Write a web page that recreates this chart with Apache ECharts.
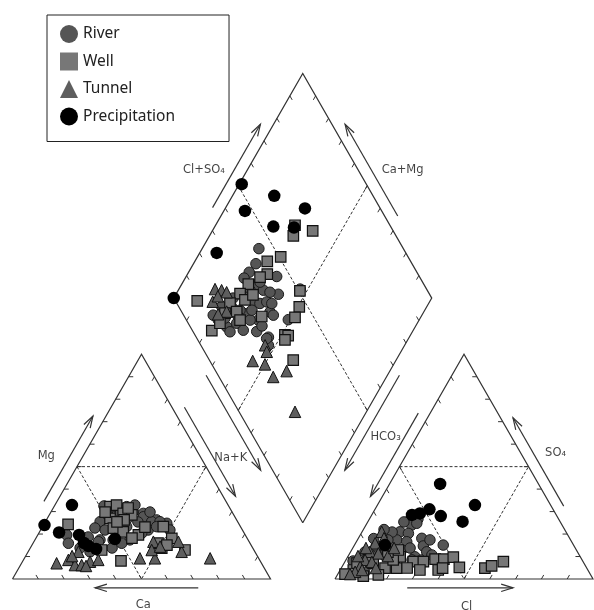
<!DOCTYPE html>
<html><head><meta charset="utf-8">
<script src="https://cdn.jsdelivr.net/npm/echarts@6/dist/echarts.min.js"></script>
<style>html,body{margin:0;padding:0;background:#fff}#c{width:594px;height:610px}</style>
</head><body><div id="c"></div>
<script>
// ---------------- DATA (percent values) ----------------
const categories = ['River', 'Well', 'Tunnel', 'Precipitation'];

// Cation triangle: [Mg %, Na+K %]   (Ca % = 100 - Mg - Na+K)
const riverCation = [[25.5,21.2],[18.7,20],[19.6,11.2],[17.4,25.2],[29.2,36.1],[26.3,42.7],[24.8,47.4],[22.7,20.6],[15.9,13.7],[16.6,25],[12.1,24],[32.2,28.2],[30,31.8],[27.7,36.9],[25.5,41.2],[25.5,44.4],[21.8,41.7],[20.3,39.9],[17.4,36.8],[15.9,34.4],[23.3,32.6],[23.3,44.2],[28.5,22.8],[21.8,28.8],[21.8,25],[25.4,35.9],[29.8,26.8],[17.4,30.3],[13.8,19.3],[29.8,38.4],[32.9,31],[21.8,50.1],[13.8,31.7],[27.1,31.2],[32.5,19.2]];
const wellCation = [[24.3,9.4],[12.9,28.1],[8.1,38],[32.2,21.7],[32.9,23.9],[27,24.3],[29.2,28.3],[22.6,27.8],[21,32.4],[28.5,32],[19.6,39],[23.3,46.8],[18.1,52.7],[13.7,51],[12.9,60.4],[26.3,30.1],[29.8,21],[25.4,27.8],[31.6,29],[23.1,39.8],[16,48.4],[15.1,52.3],[18.2,37.2]];
const tunnelCation = [[7,13.6],[8.5,17.4],[12.1,19.5],[6.2,21.1],[6.2,23.7],[7.7,26.2],[8.5,29],[9.2,44.8],[9.2,50.6],[16.6,46.3],[12.9,47.5],[12.1,59.5],[9.2,72],[16.6,56],[14.4,50],[5.8,25.6],[10.2,18]];
const precipCation = [[32.9,6.6],[24,0.4],[20.7,7.7],[19.6,16],[14.7,22.1],[17.8,30.8],[13.4,25.7],[16,19.7]];

// Anion triangle: [SO4 %, Cl %]   (HCO3 % = 100 - SO4 - Cl)
const riverAnion = [[26.7,18.8],[26.3,15.9],[24,17.7],[21,14.7],[20.3,18.3],[17.4,15.2],[16.6,19.5],[9.9,26],[8.5,29.4],[14.4,14.1],[12.9,19.4],[18.1,24.6],[14.7,26.9],[12.1,29.5],[15.1,34.4],[24.8,19.3],[10.2,14.3],[13.8,10.5],[20.9,11.7],[25.4,14],[10.2,9.2],[8.5,19],[13.8,22.2],[17.4,28.1],[17.4,11.8],[14.7,8.6],[12,5.6],[8.5,25.6],[10.7,32.2],[6.7,10.2],[5,5],[8,3],[3,10],[18,6],[22,8]];
const wellAnion = [[4,5.1],[1.3,10.3],[7,11.3],[4.8,17],[4.8,21.5],[9.9,20.3],[7.7,26.5],[8.5,18.3],[1.8,15.9],[8.5,8.7],[12.9,18.1],[7.7,30.4],[8.8,34.4],[8.8,37.8],[9.7,41],[4,38],[4.8,39.3],[5.2,45.6],[4.8,55.7],[5.8,57.8],[7.7,61.4],[7.1,5],[2.2,2.8],[12,14.5],[4.9,25.5],[4,30.9]];
const tunnelAnion = [[21,7.6],[15.9,7.6],[12.1,7.5],[8.5,7.4],[5.5,7],[11.4,11.1],[3.2,6.2],[15.1,12.2],[7.6,10.5],[2.2,4.7],[13.8,5.1],[10.2,15.4],[4,8.5],[4.9,13.4],[13.8,16],[10.2,3.8],[18.2,9.9]];
const precipAnion = [[42.3,19.6],[32.9,37.8],[31,21.1],[28,27],[25.5,36.7],[29.2,18.3],[15.1,11.8],[28.5,15.6]];

// Diamond: [Cl+SO4 %, Ca+Mg %]
const riverDiamond = [[44,78],[39.5,75.8],[35,76.5],[44.7,64.9],[41.4,60.3],[39.6,50.8],[28,54.6],[26.2,52.8],[31.7,77.2],[35.2,70.9],[30,68.3],[32.2,65.4],[35.2,63.1],[34.2,59.6],[34.8,57.6],[36.8,60.8],[24.8,68.3],[18.8,70],[19.8,65.9],[24.7,60.4],[27,55],[14.1,73.1],[12.4,77.9],[11.5,80.9],[16.7,79.5],[20.5,75.6],[23,71.6],[31.3,72.2],[36.5,67],[27.9,62.3],[24.7,65.5],[14.3,70.7],[37,70.1],[23,77],[27.8,72.6],[38.6,64],[28,59.6],[15.4,75.7],[20.9,71.1],[27.6,67],[51,53]];
const wellDiamond = [[63.2,69.2],[60.2,67.5],[68.8,61.1],[50.6,67.7],[44.4,71.9],[41.6,69.1],[38.1,71.2],[32,74.2],[26.7,75.3],[8.5,90.3],[20.7,77.1],[21.4,72.6],[16.5,76.8],[30,61.8],[7.5,78],[50.5,52.7],[46.7,49.4],[42.7,48.7],[34.9,48.7],[36,47.3],[33.8,47.6],[32.5,39.9],[12.3,76.5],[20.8,69.4],[27.2,72],[31.4,70]];
const tunnelDiamond = [[18,86],[20.3,83.2],[21.8,80.8],[14.3,84.1],[17.5,76.5],[24.9,54.1],[24.1,52],[16.6,55.4],[20.6,49.9],[21,43.9],[27.5,40],[21.7,27.7],[17.5,83.3],[13.6,79.2]];
const precipDiamond = [[51.7,99],[61.7,83.8],[70.8,69.1],[47,91.8],[54.5,77.3],[62.3,69.1],[26.7,93.4],[0,100]];

// ---------------- GEOMETRY (Piper layout in unit coordinates) ----------------
const H = Math.sqrt(3) / 2, G = 0.25;
const cat = p => [p[1] / 100 + 0.5 * p[0] / 100, H * p[0] / 100];
const ani = p => [1 + G + p[1] / 100 + 0.5 * p[0] / 100, H * p[0] / 100];
const dia = p => [1 + G / 2 + 0.5 * (p[0] - p[1]) / 100, H * (G + (p[0] + p[1]) / 100)];

const A = [0, 0], B = [1, 0], C = [0.5, H];
const A2 = [1 + G, 0], B2 = [2 + G, 0], C2 = [1.5 + G, H];
const dB = [1 + G / 2, G * H], dL = [0.5 + G / 2, H * (1 + G)], dR = [1.5 + G / 2, H * (1 + G)], dT = [1 + G / 2, H * (2 + G)];
const lerp = (P, Q, t) => [P[0] + (Q[0] - P[0]) * t, P[1] + (Q[1] - P[1]) * t];
const add = (P, d, s) => [P[0] + d[0] * s, P[1] + d[1] * s];

const outlines = [[A, B, C, A], [A2, B2, C2, A2], [dB, dR, dT, dL, dB]];
const dashed = [
  [lerp(A, C, .5), lerp(B, C, .5), lerp(A, B, .5), lerp(A, C, .5)],
  [lerp(A2, C2, .5), lerp(B2, C2, .5), lerp(A2, B2, .5), lerp(A2, C2, .5)],
  [lerp(dL, dT, .5), lerp(dR, dB, .5)],
  [lerp(dR, dT, .5), lerp(dL, dB, .5)]
];
const TL = 0.018;
const tickDefs = [
  [A, B, [-0.5, H]], [A, C, [1, 0]], [B, C, [-0.5, -H]],
  [A2, B2, [0.5, H]], [A2, C2, [0.5, -H]], [B2, C2, [-1, 0]],
  [dL, dT, [0.5, -H]], [dR, dT, [-0.5, -H]], [dL, dB, [0.5, H]], [dR, dB, [-0.5, H]]
];
const ticks = [];
tickDefs.forEach(([P, Q, d]) => { for (let i = 1; i < 10; i++) { const p = lerp(P, Q, i / 10); ticks.push([p, add(p, d, TL)]); } });

function arrow(P, Q, t0, t1, n, off) {
  const S = add(lerp(P, Q, t0), n, off), E = add(lerp(P, Q, t1), n, off);
  const dx = E[0] - S[0], dy = E[1] - S[1], len = Math.hypot(dx, dy);
  const ux = -dx / len, uy = -dy / len, th = 17 * Math.PI / 180, hl = 0.048;
  const a1 = [E[0] + hl * (ux * Math.cos(th) - uy * Math.sin(th)), E[1] + hl * (ux * Math.sin(th) + uy * Math.cos(th))];
  const a2 = [E[0] + hl * (ux * Math.cos(-th) - uy * Math.sin(-th)), E[1] + hl * (ux * Math.sin(-th) + uy * Math.cos(-th))];
  return [[S, E], [a1, E, a2]];
}
const arrows = [].concat(
  arrow(A, C, 0.32, 0.70, [-H, 0.5], 0.044),
  arrow(C, B, 0.26, 0.656, [H, 0.5], 0.042),
  arrow(B, A, 0.28, 0.68, [0, -1], 0.034),
  arrow(C2, A2, 0.285, 0.656, [-H, 0.5], 0.040),
  arrow(B2, C2, 0.30, 0.693, [H, 0.5], 0.042),
  arrow(A2, B2, 0.28, 0.69, [0, -1], 0.034),
  arrow(dL, dT, 0.377, 0.748, [-H, 0.5], 0.044),
  arrow(dR, dT, 0.34, 0.748, [H, 0.5], 0.044),
  arrow(dL, dB, 0.32, 0.743, [-H, -0.5], 0.040),
  arrow(dR, dB, 0.32, 0.743, [H, -0.5], 0.040)
);

const axisLabels = [
  { name: 'Mg', value: [0.131, 0.474] },
  { name: 'Na+K', value: [0.846, 0.466] },
  { name: 'Ca', value: [0.507, -0.100] },
  { name: 'HCO\u2083', value: [1.446, 0.547] },
  { name: 'SO\u2084', value: [2.105, 0.484] },
  { name: 'Cl', value: [1.760, -0.107] },
  { name: 'Cl+SO\u2084', value: [0.742, 1.576] },
  { name: 'Ca+Mg', value: [1.512, 1.576] }
];

// pixel layout of the unit system
const PX = 258, PY = 259.5, X0 = 12.5, Y0 = 579, W = 594, HT = 610;

const styles = {
  River: { symbol: 'circle', symbolSize: 10.5, itemStyle: { color: '#555', borderColor: '#1a1a1a', borderWidth: 1, opacity: 1 } },
  Well: { symbol: 'rect', symbolSize: 10.5, itemStyle: { color: '#777', borderColor: '#111', borderWidth: 1.2, opacity: 1 } },
  Tunnel: { symbol: 'triangle', symbolSize: 11.5, itemStyle: { color: '#5e5e5e', borderColor: '#111', borderWidth: 1, opacity: 1 } },
  Precipitation: { symbol: 'circle', symbolSize: 12.5, itemStyle: { color: '#000', opacity: 1 } }
};
const groups = {
  River: [riverCation, riverAnion, riverDiamond],
  Well: [wellCation, wellAnion, wellDiamond],
  Tunnel: [tunnelCation, tunnelAnion, tunnelDiamond],
  Precipitation: [precipCation, precipAnion, precipDiamond]
};

const frame = (polys, style) => ({
  type: 'lines', coordinateSystem: 'cartesian2d', polyline: true, silent: true, z: 1,
  data: polys.map(c => ({ coords: c })), lineStyle: style, effect: { show: false }
});

const series = [
  frame(outlines, { color: '#333', width: 1.2, opacity: 1 }),
  frame(dashed, { color: '#333', width: 1, type: [3, 2], opacity: 1 }),
  frame(ticks, { color: '#333', width: 1, opacity: 1 }),
  frame(arrows, { color: '#333', width: 1.2, opacity: 1 }),
  {
    type: 'scatter', name: '_labels', symbolSize: 0, silent: true, z: 3,
    data: axisLabels,
    label: { show: true, position: 'inside', formatter: '{b}', color: '#111', fontFamily: 'DejaVu Sans', fontSize: 11.5 }
  }
].concat(categories.map(name => Object.assign({
  type: 'scatter', name, z: 5,
  data: [].concat(groups[name][0].map(cat), groups[name][1].map(ani), groups[name][2].map(dia))
}, styles[name])));

const chart = echarts.init(document.getElementById('c'), null, { renderer: 'canvas' });
chart.setOption({
  animation: false,
  backgroundColor: '#fff',
  grid: { left: 0, right: 0, top: 0, bottom: 0, containLabel: false },
  xAxis: { type: 'value', min: -X0 / PX, max: (W - X0) / PX, show: false },
  yAxis: { type: 'value', min: -(HT - Y0) / PY, max: Y0 / PY, show: false },
  legend: {
    data: categories, orient: 'vertical', left: 47, top: 15,
    padding: [10, 54, 16, 13], itemGap: 9.5, itemWidth: 18, itemHeight: 18,
    borderColor: '#222', borderWidth: 1, backgroundColor: '#fff',
    itemStyle: { borderWidth: 0 },
    textStyle: { fontFamily: 'Noto Sans', fontSize: 15.5, color: '#222' }
  },
  series
});
</script></body></html>
